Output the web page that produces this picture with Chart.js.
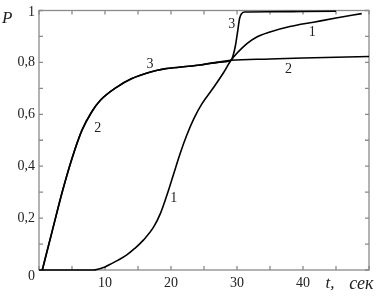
<!DOCTYPE html>
<html>
<head>
<meta charset="utf-8">
<script src="https://cdn.jsdelivr.net/npm/chart.js@4.4.1/dist/chart.umd.min.js"></script>
<style>
  html, body { margin: 0; padding: 0; background: #fff; }
  #wrap { width: 386px; height: 303px; position: relative; }
</style>
</head>
<body>
<div id="wrap"><canvas id="probChart"></canvas></div>
<script>
// curve 1 (sigmoid)
const t1 = [0, 8.2, 10, 10.8, 12, 13.3, 14.5, 15.85, 17.4, 18.4, 19.4, 20.4, 21.4, 22.4, 23.5, 24.7, 26.5, 28, 29.1, 31.5, 33, 35, 38, 41.6, 45, 48.9];
const p1 = [0, 0, 0.012, 0.022, 0.038, 0.058, 0.083, 0.116, 0.167, 0.218, 0.29, 0.37, 0.45, 0.52, 0.585, 0.641, 0.705, 0.762, 0.808, 0.872, 0.898, 0.917, 0.938, 0.955, 0.971, 0.988];

// curve 2 (fast rise, then flat)
const t2 = [0.5, 2, 3.6, 5, 6.5, 8, 9.3, 11.8, 14, 16.9, 19, 21.9, 24.4, 27, 29.1, 35, 40, 45, 50];
const p2 = [0, 0.15, 0.308, 0.43, 0.538, 0.61, 0.654, 0.705, 0.737, 0.763, 0.775, 0.783, 0.79, 0.8, 0.808, 0.813, 0.817, 0.82, 0.823];

// curve 3 (same as 2, then jumps to 1)
const t3 = [0.5, 2, 3.6, 5, 6.5, 8, 9.3, 11.8, 14, 16.9, 19, 21.9, 24.4, 27, 29.1, 29.5, 29.8, 30.1, 30.4, 30.7, 31.2, 35, 40, 45];
const p3 = [0, 0.15, 0.308, 0.43, 0.538, 0.61, 0.654, 0.705, 0.737, 0.763, 0.775, 0.783, 0.79, 0.8, 0.808, 0.835, 0.87, 0.92, 0.97, 0.988, 0.994, 0.995, 0.996, 0.997];

// axis ticks
const xTicks = [0, 5, 10, 15, 20, 25, 30, 35, 40, 45, 50];
const xLabelVals = [10, 20, 30, 40];
const xLabels = ['10', '20', '30', '40'];
const yTicks = [0, 0.1, 0.2, 0.3, 0.4, 0.5, 0.6, 0.7, 0.8, 0.9, 1];
const yLabelVals = [0, 0.2, 0.4, 0.6, 0.8, 1];
const yLabels = ['0', '0,2', '0,4', '0,6', '0,8', '1'];

// curve numbers written on the plot (in data units)
const curveLabels = [
    { text: '1', t: 20.4, p: 0.276 },
    { text: '1', t: 41.4, p: 0.916 },
    { text: '2', t: 8.9, p: 0.546 },
    { text: '2', t: 37.8, p: 0.773 },
    { text: '3', t: 16.8, p: 0.794 },
    { text: '3', t: 29.2, p: 0.948 }
];

function toPoints(ts, ps) {
    return ts.map((t, i) => ({ x: t, y: ps[i] }));
}

const serif = '"Liberation Serif", "DejaVu Serif", serif';

// рамка, засечки внутрь и подписи
const framePlugin = {
    id: 'frame',
    beforeDatasetsDraw(chart) {
        const { ctx, chartArea: a, scales: { x, y } } = chart;
        ctx.save();
        ctx.strokeStyle = '#8a8a8a';
        ctx.lineWidth = 1.3;
        ctx.strokeRect(a.left, a.top, a.right - a.left, a.bottom - a.top);
        ctx.beginPath();
        xTicks.forEach(v => {
            const px = x.getPixelForValue(v);
            ctx.moveTo(px, a.bottom); ctx.lineTo(px, a.bottom - 4);
            ctx.moveTo(px, a.top); ctx.lineTo(px, a.top + 4);
        });
        yTicks.forEach(v => {
            const py = y.getPixelForValue(v);
            ctx.moveTo(a.left, py); ctx.lineTo(a.left + 4, py);
            ctx.moveTo(a.right, py); ctx.lineTo(a.right - 4, py);
        });
        ctx.stroke();

        ctx.fillStyle = '#222';
        ctx.font = '14px ' + serif;
        ctx.textAlign = 'center';
        ctx.textBaseline = 'middle';
        xLabelVals.forEach((v, i) => {
            ctx.fillText(xLabels[i], x.getPixelForValue(v), a.bottom + 13);
        });
        ctx.textAlign = 'right';
        yLabelVals.forEach((v, i) => {
            let py = y.getPixelForValue(v);
            if (v === 0) py += 6;
            if (v === 1) py += 2;
            ctx.fillText(yLabels[i], a.left - 4, py);
        });

        ctx.font = 'italic 17px ' + serif;
        ctx.textAlign = 'left';
        ctx.fillText('P', 2, 19);
        ctx.fillText('t,', x.getPixelForValue(43.4), a.bottom + 14);
        ctx.font = 'italic 18px ' + serif;
        ctx.fillText('сек', x.getPixelForValue(47), a.bottom + 14);

        ctx.font = '14px ' + serif;
        ctx.textAlign = 'center';
        curveLabels.forEach(l => {
            ctx.fillText(l.text, x.getPixelForValue(l.t), y.getPixelForValue(l.p));
        });
        ctx.restore();
    }
};

function curve(ts, ps) {
    return {
        data: toPoints(ts, ps),
        borderColor: '#000',
        borderWidth: 1.6,
        pointRadius: 0,
        cubicInterpolationMode: 'monotone',
        fill: false,
        clip: false
    };
}

new Chart(document.getElementById('probChart'), {
    type: 'line',
    data: {
        datasets: [curve(t1, p1), curve(t2, p2), curve(t3, p3)]
    },
    options: {
        responsive: true,
        maintainAspectRatio: false,
        animation: false,
        layout: { padding: { left: 39, right: 17, top: 10.5, bottom: 33 } },
        plugins: { legend: { display: false }, tooltip: { enabled: false } },
        scales: {
            x: { type: 'linear', min: 0, max: 50, display: false },
            y: { type: 'linear', min: 0, max: 1, display: false }
        }
    },
    plugins: [framePlugin]
});
</script>
</body>
</html>
